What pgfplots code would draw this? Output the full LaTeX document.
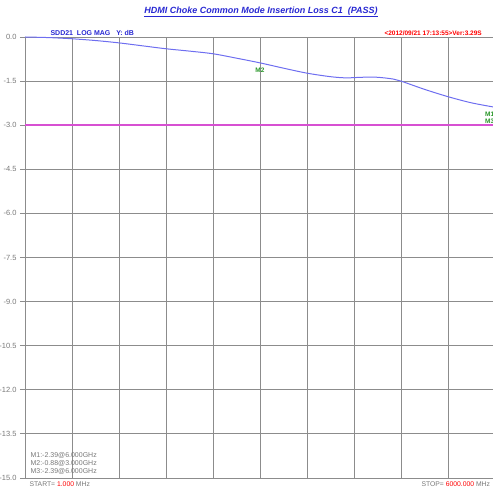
\documentclass[border=0pt]{standalone}
\usepackage{pgfplots}
\pgfplotsset{compat=1.18}
\usepackage{fontspec}
\setmainfont{Liberation Sans}
\definecolor{curvec}{RGB}{110,110,240}
\definecolor{limc}{RGB}{215,80,210}
\definecolor{gridc}{RGB}{140,140,140}
\definecolor{ttl}{RGB}{40,40,210}
\definecolor{mk}{RGB}{40,150,40}
\definecolor{txtg}{RGB}{120,120,120}
\begin{document}
\begin{tikzpicture}[x=1pt,y=1pt]
\begin{axis}[
  at={(25pt,11pt)}, anchor=south west,
  scale only axis, width=470pt, height=441pt,
  xmin=1, xmax=6000, ymin=-15, ymax=0,
  xtick={600,1200,1800,2400,3000,3600,4200,4800,5400},
  xticklabels={},
  ytick={0,-1.5,-4.5,-6,-7.5,-9,-10.5,-12,-13.5,-15},
  yticklabels={0.0,-1.5,-4.5,-6.0,-7.5,-9.0,-10.5,-12.0,-13.5,-15.0},
  extra y ticks={-3}, extra y tick labels={-3.0},
  extra y tick style={grid=none},
  yticklabel style={font=\fontsize{7.5}{8}\selectfont, text=txtg},
  /pgf/number format/assume math mode=true,
  grid=major, major grid style={gridc, line width=0.8pt},
  axis line style={gridc, line width=0.9pt},
  tick style={gridc, line width=0.8pt},
  ytick pos=left, xtick pos=bottom,
  tick align=outside, major tick length=5pt,
  x tick style={draw=none},
  clip=false,
]
\addplot[draw=curvec, line width=1pt, smooth] coordinates {
(1,0) (300,-0.02) (600,-0.06) (900,-0.12) (1200,-0.20) (1500,-0.30)
(1800,-0.40) (2100,-0.48) (2400,-0.57) (2700,-0.72) (3000,-0.88)
(3300,-1.06) (3600,-1.23) (3900,-1.35) (4100,-1.39) (4300,-1.37)
(4500,-1.37) (4700,-1.43) (4800,-1.50) (5100,-1.78) (5400,-2.03)
(5700,-2.24) (6000,-2.39)};
\addplot[draw=limc, line width=1.5pt] coordinates {(1,-3) (6000,-3)};
\node[text=mk, font=\fontsize{6.5}{7}\selectfont\bfseries] at (axis cs:3000,-1.12) {M2};
\node[text=mk, font=\fontsize{6.5}{7}\selectfont\bfseries, anchor=west] at (axis cs:5830,-2.62) {M1};
\node[text=mk, font=\fontsize{6.5}{7}\selectfont\bfseries, anchor=west] at (axis cs:5830,-2.86) {M3};
\end{axis}
\node[text=ttl, font=\fontsize{9}{10}\selectfont\bfseries\itshape] at (261pt,477pt) {\underline{HDMI Choke Common Mode Insertion Loss C1\ \ (PASS)}};
\node[text=ttl, font=\fontsize{7}{8}\selectfont\bfseries, anchor=west] at (47pt,456pt) {SDD21\ \ LOG MAG\ \ \ Y: dB};
\node[text=red, font=\fontsize{6.5}{7}\selectfont\bfseries, anchor=west] at (381pt,456pt) {<2012/09/21 17:13:55>Ver:3.29S};
\node[text=txtg, font=\fontsize{7}{8}\selectfont, anchor=west, align=left] at (27pt,26pt) {M1:-2.39@6.000GHz\\M2:-0.88@3.000GHz\\M3:-2.39@6.000GHz};
\node[text=txtg, font=\fontsize{6.8}{7}\selectfont, anchor=west] at (26pt,5pt) {START= \textcolor{red}{1.000} MHz};
\node[text=txtg, font=\fontsize{6.8}{7}\selectfont, anchor=west] at (418pt,5pt) {STOP= \textcolor{red}{6000.000} MHz};
\pgfresetboundingbox
\path[use as bounding box] (0,0) rectangle (493pt,489pt);
\end{tikzpicture}
\end{document}
